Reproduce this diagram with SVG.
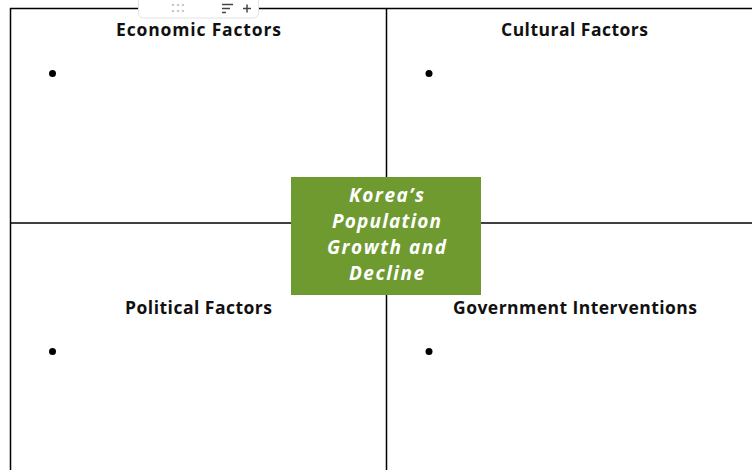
<svg xmlns="http://www.w3.org/2000/svg" width="752" height="470" viewBox="0 0 752 470">
<style>
.ln{stroke:#000;stroke-width:1.5;fill:none}
.hd{font-family:"Open Sans","Liberation Sans",sans-serif;font-weight:700;font-size:17.5px;fill:#111;text-anchor:middle}
.ct{font-family:"Open Sans","Liberation Sans",sans-serif;font-weight:700;font-style:italic;font-size:19px;fill:#fff;text-anchor:middle}
</style>
<rect width="752" height="470" fill="#fff"/>
<g id="connectors">
<line class="ln" x1="10" y1="8.5" x2="752" y2="8.5"/>
<line class="ln" x1="10.5" y1="8" x2="10.5" y2="470"/>
<line class="ln" x1="386.5" y1="8" x2="386.5" y2="470"/>
<line class="ln" x1="10" y1="223" x2="752" y2="223"/>
</g>
<g id="toolbar">
<rect x="138.5" y="-4" width="120" height="22" rx="5" fill="#fff" stroke="#e2e2e2"/>
<g fill="#c8c8c8"><circle cx="173" cy="5" r="1.2"/><circle cx="178" cy="5" r="1.2"/><circle cx="183" cy="5" r="1.2"/><circle cx="173" cy="11" r="1.2"/><circle cx="178" cy="11" r="1.2"/><circle cx="183" cy="11" r="1.2"/></g>
<g stroke="#444" stroke-width="1.5"><line x1="222" y1="4.5" x2="233" y2="4.5"/><line x1="222" y1="8.5" x2="230" y2="8.5"/><line x1="222" y1="12.5" x2="226" y2="12.5"/><line x1="243" y1="8.5" x2="251" y2="8.5"/><line x1="247" y1="4.5" x2="247" y2="12.5"/></g>
</g>
<g id="economic">
<text class="hd" x="198.5" y="36" textLength="165">Economic Factors</text>
<circle cx="52.5" cy="73.5" r="3.5" fill="#000"/>
</g>
<g id="cultural">
<text class="hd" x="574.5" y="36" textLength="147">Cultural Factors</text>
<circle cx="429" cy="73.5" r="3.5" fill="#000"/>
</g>
<g id="political">
<text class="hd" x="198.5" y="314" textLength="147">Political Factors</text>
<circle cx="52.5" cy="351.5" r="3.5" fill="#000"/>
</g>
<g id="government">
<text class="hd" x="575" y="314" textLength="244">Government Interventions</text>
<circle cx="429" cy="351.5" r="3.5" fill="#000"/>
</g>
<g id="center">
<rect x="291" y="177" width="190" height="118" fill="#6e9a30"/>
<text class="ct" x="386.5" y="202" textLength="75">Korea’s</text>
<text class="ct" x="386.5" y="228" textLength="109">Population</text>
<text class="ct" x="386.5" y="254" textLength="119">Growth and</text>
<text class="ct" x="386.5" y="280" textLength="75">Decline</text>
</g>
</svg>
